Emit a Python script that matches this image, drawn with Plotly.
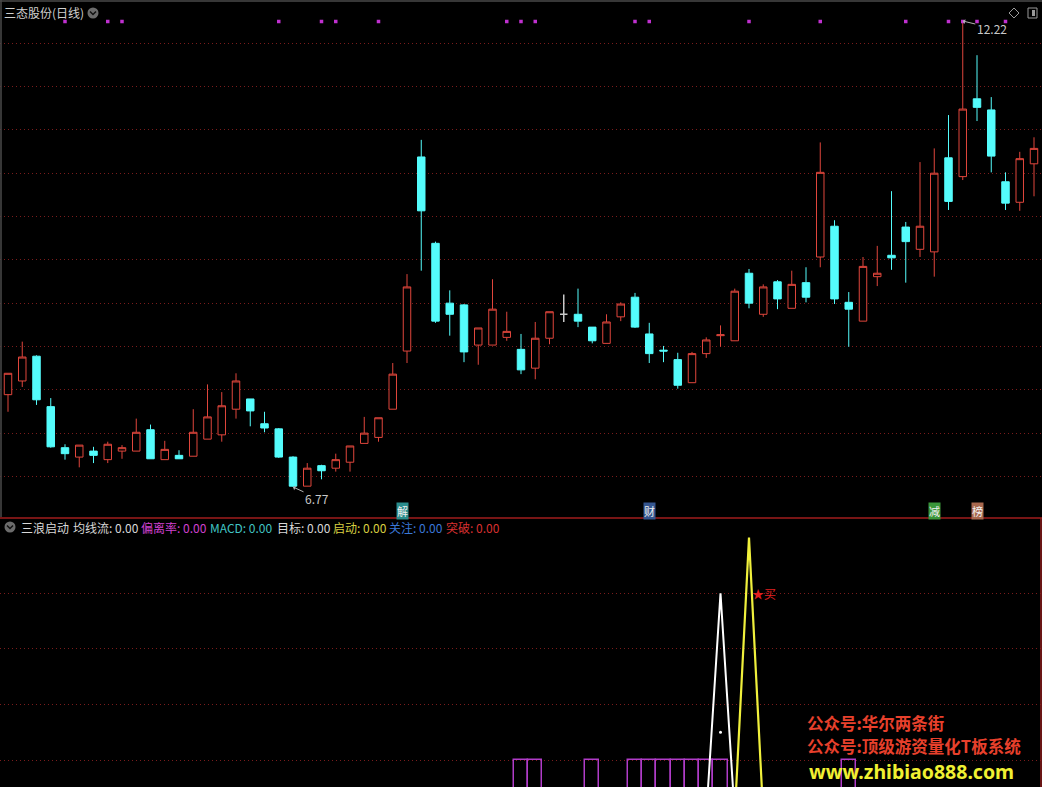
import plotly.graph_objects as go

# ---------------- data ----------------
IDX = list(range(73))
OPEN = [7.85, 8.01, 8.30, 7.71, 7.23, 7.12, 7.19, 7.09, 7.19, 7.19,
        7.44, 7.09, 7.14, 7.13, 7.33, 7.38, 7.68, 7.80, 7.51, 7.45,
        7.12, 6.78, 7.02, 6.99, 7.06, 7.28, 7.35, 7.68, 8.36, 10.63,
        9.62, 8.92, 8.90, 8.43, 8.43, 8.52, 8.38, 8.16, 8.51, 8.79,
        8.79, 8.64, 8.45, 8.76, 8.99, 8.56, 8.37, 8.26, 7.99, 8.33,
        8.54, 8.48, 9.27, 8.79, 9.17, 8.86, 9.16, 9.46, 9.82, 8.93,
        8.71, 9.23, 9.48, 9.81, 9.55, 9.52, 10.62, 10.40, 11.31, 11.18,
        10.34, 10.10, 10.55]
HIGH = [8.10, 8.47, 8.31, 7.81, 7.27, 7.26, 7.24, 7.30, 7.26, 7.57,
        7.50, 7.31, 7.20, 7.68, 7.97, 7.88, 8.10, 7.80, 7.65, 7.46,
        7.13, 7.05, 7.03, 7.16, 7.25, 7.59, 7.58, 8.22, 9.26, 10.83,
        9.64, 9.07, 8.91, 8.63, 9.20, 8.82, 8.56, 8.70, 8.82, 9.02,
        9.09, 8.64, 8.79, 8.93, 9.04, 8.69, 8.42, 8.34, 8.35, 8.52,
        8.66, 9.09, 9.32, 9.14, 9.19, 9.30, 9.34, 10.80, 9.89, 9.05,
        9.46, 9.59, 10.23, 9.87, 10.57, 10.73, 11.12, 12.22, 11.82, 11.33,
        10.45, 10.69, 10.86]
LOW = [7.65, 7.94, 7.73, 7.23, 7.09, 7.00, 7.05, 7.05, 7.10, 7.19,
       7.10, 7.09, 7.10, 7.13, 7.33, 7.30, 7.57, 7.48, 7.41, 7.11,
       6.77, 6.78, 6.86, 6.95, 6.95, 7.28, 7.30, 7.68, 8.22, 9.30,
       8.69, 8.54, 8.23, 8.20, 8.43, 8.48, 8.09, 8.03, 8.44, 8.70,
       8.64, 8.45, 8.45, 8.71, 8.63, 8.22, 8.23, 7.92, 7.99, 8.28,
       8.41, 8.48, 8.86, 8.76, 8.85, 8.86, 8.93, 9.34, 8.91, 8.41,
       8.71, 9.12, 9.31, 9.16, 9.46, 9.23, 10.01, 10.36, 11.05, 10.45,
       10.01, 10.00, 10.17]
CLOSE = [8.10, 8.29, 7.79, 7.24, 7.16, 7.26, 7.14, 7.27, 7.23, 7.41,
         7.10, 7.21, 7.10, 7.41, 7.59, 7.72, 8.01, 7.66, 7.46, 7.12,
         6.78, 6.99, 6.96, 7.09, 7.25, 7.40, 7.58, 8.09, 9.11, 10.00,
         8.71, 8.79, 8.35, 8.63, 8.85, 8.59, 8.14, 8.51, 8.82, 8.79,
         8.71, 8.48, 8.70, 8.91, 8.64, 8.33, 8.36, 7.96, 8.33, 8.49,
         8.55, 9.06, 8.92, 9.11, 8.97, 9.14, 8.99, 10.45, 8.97, 8.85,
         9.35, 9.27, 9.45, 9.64, 9.82, 10.44, 10.11, 11.19, 11.21, 10.64,
         10.09, 10.61, 10.73]

SIGNAL_IDX = [4, 7, 8, 19, 22, 23, 26, 35, 36, 37, 44, 45, 52, 57, 63, 66, 67, 68, 70]

WHITE_IDX = [48, 49, 50, 51, 52]
WHITE_VAL = [0, 0, 80, 0, 0]
YELLOW_IDX = [50, 51, 52, 53, 54]
YELLOW_VAL = [0, 0, 100, 0, 0]
STICK_IDX = [36, 37, 41, 44, 45, 46, 47, 48, 49, 50, 59]
STICK_VAL = [20, 20, 20, 20, 20, 20, 20, 20, 20, 20, 20]
DOT_IDX = [50]
DOT_VAL = [30]
BUY_IDX = 52
BUY_VAL = 80

EVENT_LABELS = [(28, "解", "#2a8c8c"), (45, "财", "#34558f"),
                (65, "减", "#3a963a"), (68, "榜", "#a8684e")]

HIGH_MARK = (67, 12.22)
LOW_MARK = (20, 6.77)

# ---------------- layout helpers ----------------
W, H = 1042, 787


def px(x):
    return x / W


def py(y):
    return 1 - y / H


K = 0.011695  # price per pixel in the upper pane


def price_at(ypix):
    return 12.22 - (ypix - 21) * K


UP_TOP, UP_BOT = 0, 517
LO_TOP, LO_BOT = 519, 787
X_RANGE = [-8 / 14.25, (W - 8) / 14.25]
Y1_RANGE = [price_at(UP_BOT), price_at(UP_TOP)]
ZERO_PX, STEP_PX = 815.6, 55.6


def lower_val(ypix):
    return (ZERO_PX - ypix) / STEP_PX * 20


Y2_RANGE = [lower_val(LO_BOT), lower_val(LO_TOP)]

RED = "#e0463c"
CYAN = "#54fcfc"
GRID = "#7a1c1c"

fig = go.Figure()

normal = [i for i in IDX if OPEN[i] != CLOSE[i]]
doji = [i for i in IDX if OPEN[i] == CLOSE[i]]

fig.add_trace(go.Candlestick(
    x=[IDX[i] for i in normal],
    open=[OPEN[i] for i in normal], high=[HIGH[i] for i in normal],
    low=[LOW[i] for i in normal], close=[CLOSE[i] for i in normal],
    increasing=dict(line=dict(color=RED, width=1), fillcolor="#000000"),
    decreasing=dict(line=dict(color=CYAN, width=1), fillcolor=CYAN),
    whiskerwidth=0, xaxis="x", yaxis="y", showlegend=False, hoverinfo="skip"))

fig.add_trace(go.Candlestick(
    x=[IDX[i] for i in doji],
    open=[OPEN[i] for i in doji], high=[HIGH[i] for i in doji],
    low=[LOW[i] for i in doji], close=[CLOSE[i] for i in doji],
    increasing=dict(line=dict(color="#c8c8c8", width=1.5), fillcolor="#c8c8c8"),
    decreasing=dict(line=dict(color="#c8c8c8", width=1.5), fillcolor="#c8c8c8"),
    whiskerwidth=0, xaxis="x", yaxis="y", showlegend=False, hoverinfo="skip"))

fig.add_trace(go.Scatter(
    x=SIGNAL_IDX, y=[price_at(21.5)] * len(SIGNAL_IDX), mode="markers",
    marker=dict(symbol="square", size=3.5, color="#c030d0"),
    xaxis="x", yaxis="y", showlegend=False, hoverinfo="skip"))

# lower pane
fig.add_trace(go.Bar(
    x=STICK_IDX, y=STICK_VAL, width=1.0,
    marker=dict(color="rgba(0,0,0,0)", line=dict(color="#b03cc8", width=1.5)),
    xaxis="x2", yaxis="y2", showlegend=False, hoverinfo="skip"))
fig.add_trace(go.Scatter(
    x=WHITE_IDX, y=WHITE_VAL, mode="lines", line=dict(color="#ffffff", width=2),
    xaxis="x2", yaxis="y2", showlegend=False, hoverinfo="skip"))
fig.add_trace(go.Scatter(
    x=YELLOW_IDX, y=YELLOW_VAL, mode="lines", line=dict(color="#f0f03c", width=2.2),
    xaxis="x2", yaxis="y2", showlegend=False, hoverinfo="skip"))
fig.add_trace(go.Scatter(
    x=DOT_IDX, y=DOT_VAL, mode="markers", marker=dict(color="#ffffff", size=3),
    xaxis="x2", yaxis="y2", showlegend=False, hoverinfo="skip"))

up_grid = [price_at(43 + k * 43.35) for k in range(11)]

fig.update_layout(
    width=W, height=H, margin=dict(l=0, r=0, t=0, b=0),
    paper_bgcolor="#000000", plot_bgcolor="#000000",
    showlegend=False, bargap=0, boxgap=0.25,
    font=dict(family="Noto Sans CJK SC, Noto Sans, sans-serif", color="#d0d0d0", size=12),
    xaxis=dict(domain=[0, 1], range=X_RANGE, visible=False, rangeslider=dict(visible=False),
               anchor="y"),
    yaxis=dict(domain=[py(UP_BOT), 1], range=Y1_RANGE, showticklabels=False, zeroline=False,
               tickvals=up_grid, showgrid=True, gridcolor=GRID, griddash="1px,3px",
               gridwidth=1, ticks="", anchor="x"),
    xaxis2=dict(domain=[0, 1], range=X_RANGE, visible=False, anchor="y2"),
    yaxis2=dict(domain=[0, py(LO_TOP)], range=Y2_RANGE, showticklabels=False, zeroline=False,
                tickvals=[20, 40, 60, 80], showgrid=True, gridcolor=GRID,
                griddash="1px,3px", gridwidth=1, ticks="", anchor="x2"),
)

shapes = []
# frame lines
shapes.append(dict(type="line", xref="paper", yref="paper", x0=0, x1=1, y0=py(1), y1=py(1),
                   line=dict(color="#4a4a4a", width=1.5)))
shapes.append(dict(type="line", xref="paper", yref="paper", x0=px(1), x1=px(1), y0=py(UP_BOT), y1=1,
                   line=dict(color="#4a4a4a", width=1.5)))
shapes.append(dict(type="line", xref="paper", yref="paper", x0=0, x1=1, y0=py(518), y1=py(518),
                   line=dict(color="#a01c1c", width=1.5)))
shapes.append(dict(type="line", xref="paper", yref="paper", x0=px(1041), x1=px(1041), y0=0, y1=py(518),
                   line=dict(color="#8c1c1c", width=1.5)))
# dropdown circles
for cx, cy in [(93, 13), (10, 527)]:
    shapes.append(dict(type="circle", xref="paper", yref="paper",
                       x0=px(cx - 5.5), x1=px(cx + 5.5), y0=py(cy + 5.5), y1=py(cy - 5.5),
                       fillcolor="#6c6c6c", line=dict(width=0)))
    shapes.append(dict(type="path", xref="paper", yref="paper",
                       path=f"M {px(cx-3)} {py(cy-1.5)} L {px(cx)} {py(cy+1.5)} L {px(cx+3)} {py(cy-1.5)}",
                       line=dict(color="#111111", width=1.5)))
# top-right icons
shapes.append(dict(type="path", xref="paper", yref="paper",
                   path=f"M {px(1014)} {py(8)} L {px(1019)} {py(13)} L {px(1014)} {py(18)} L {px(1009)} {py(13)} Z",
                   line=dict(color="#9a9a9a", width=1)))
shapes.append(dict(type="rect", xref="paper", yref="paper",
                   x0=px(1028), x1=px(1037), y0=py(18), y1=py(8),
                   line=dict(color="#9a9a9a", width=1)))
shapes.append(dict(type="rect", xref="paper", yref="paper",
                   x0=px(1032), x1=px(1035), y0=py(16), y1=py(10),
                   fillcolor="#9a9a9a", line=dict(width=0)))
fig.update_layout(shapes=shapes)

ann = []
ann.append(dict(text="三态股份(日线)", xref="paper", yref="paper", x=px(2), y=py(13),
                xanchor="left", yanchor="middle", showarrow=False,
                font=dict(size=12, color="#d0d0d0")))

lower_title = [(19, "三浪启动", "#d8d8d8"), (71, "均线流: 0.00", "#d8d8d8"),
               (139, "偏离率: 0.00", "#d040d0"), (208, "MACD: 0.00", "#40c4c4"),
               (275, "目标: 0.00", "#d8d8d8"), (331, "启动: 0.00", "#d8d040"),
               (387, "关注: 0.00", "#3a78d8"), (444, "突破: 0.00", "#d83030")]
for x0, t, c in lower_title:
    ann.append(dict(text=t, xref="paper", yref="paper", x=px(x0), y=py(527),
                    xanchor="left", yanchor="middle", showarrow=False,
                    font=dict(size=12, color=c)))

for xi, t, bg in EVENT_LABELS:
    ann.append(dict(text=t, xref="x", yref="paper", x=xi, y=py(511), xshift=-5 if xi == 28 else 0,
                    xanchor="center", yanchor="middle", showarrow=False, bgcolor=bg,
                    borderpad=0, font=dict(size=11, color="#f0f0f0")))

ann.append(dict(text="12.22", xref="x", yref="y", x=HIGH_MARK[0], y=HIGH_MARK[1],
                ax=29, ay=7, showarrow=True, arrowhead=1, arrowsize=0.8, arrowwidth=1,
                arrowcolor="#b4b4b4", font=dict(size=12, color="#c8c8c8"), standoff=0))
ann.append(dict(text="6.77", xref="x", yref="y", x=LOW_MARK[0], y=LOW_MARK[1],
                ax=24, ay=11, showarrow=True, arrowhead=1, arrowsize=0.8, arrowwidth=1,
                arrowcolor="#b4b4b4", font=dict(size=12, color="#c8c8c8"), standoff=0))

ann.append(dict(text="★买", xref="x2", yref="y2", x=BUY_IDX, y=BUY_VAL, xshift=1,
                xanchor="left", yanchor="middle", showarrow=False,
                font=dict(size=12, color="#e02020")))

ann.append(dict(text="<b>公众号:华尔两条街</b>", xref="paper", yref="paper", x=px(805), y=py(723),
                xanchor="left", yanchor="middle", showarrow=False,
                font=dict(size=16.5, color="#e8402c")))
ann.append(dict(text="<b>公众号:顶级游资量化T板系统</b>", xref="paper", yref="paper", x=px(805), y=py(746),
                xanchor="left", yanchor="middle", showarrow=False,
                font=dict(size=16.5, color="#e8402c")))
ann.append(dict(text="<b>www.zhibiao888.com</b>", xref="paper", yref="paper", x=px(807), y=py(771),
                xanchor="left", yanchor="middle", showarrow=False,
                font=dict(size=19.5, color="#f0f032", family="Noto Sans, DejaVu Sans, sans-serif")))
fig.update_layout(annotations=ann)

fig.write_html("out.html", config={"displayModeBar": False},
               post_script="document.body.style.margin='0';document.body.style.background='#000';")
